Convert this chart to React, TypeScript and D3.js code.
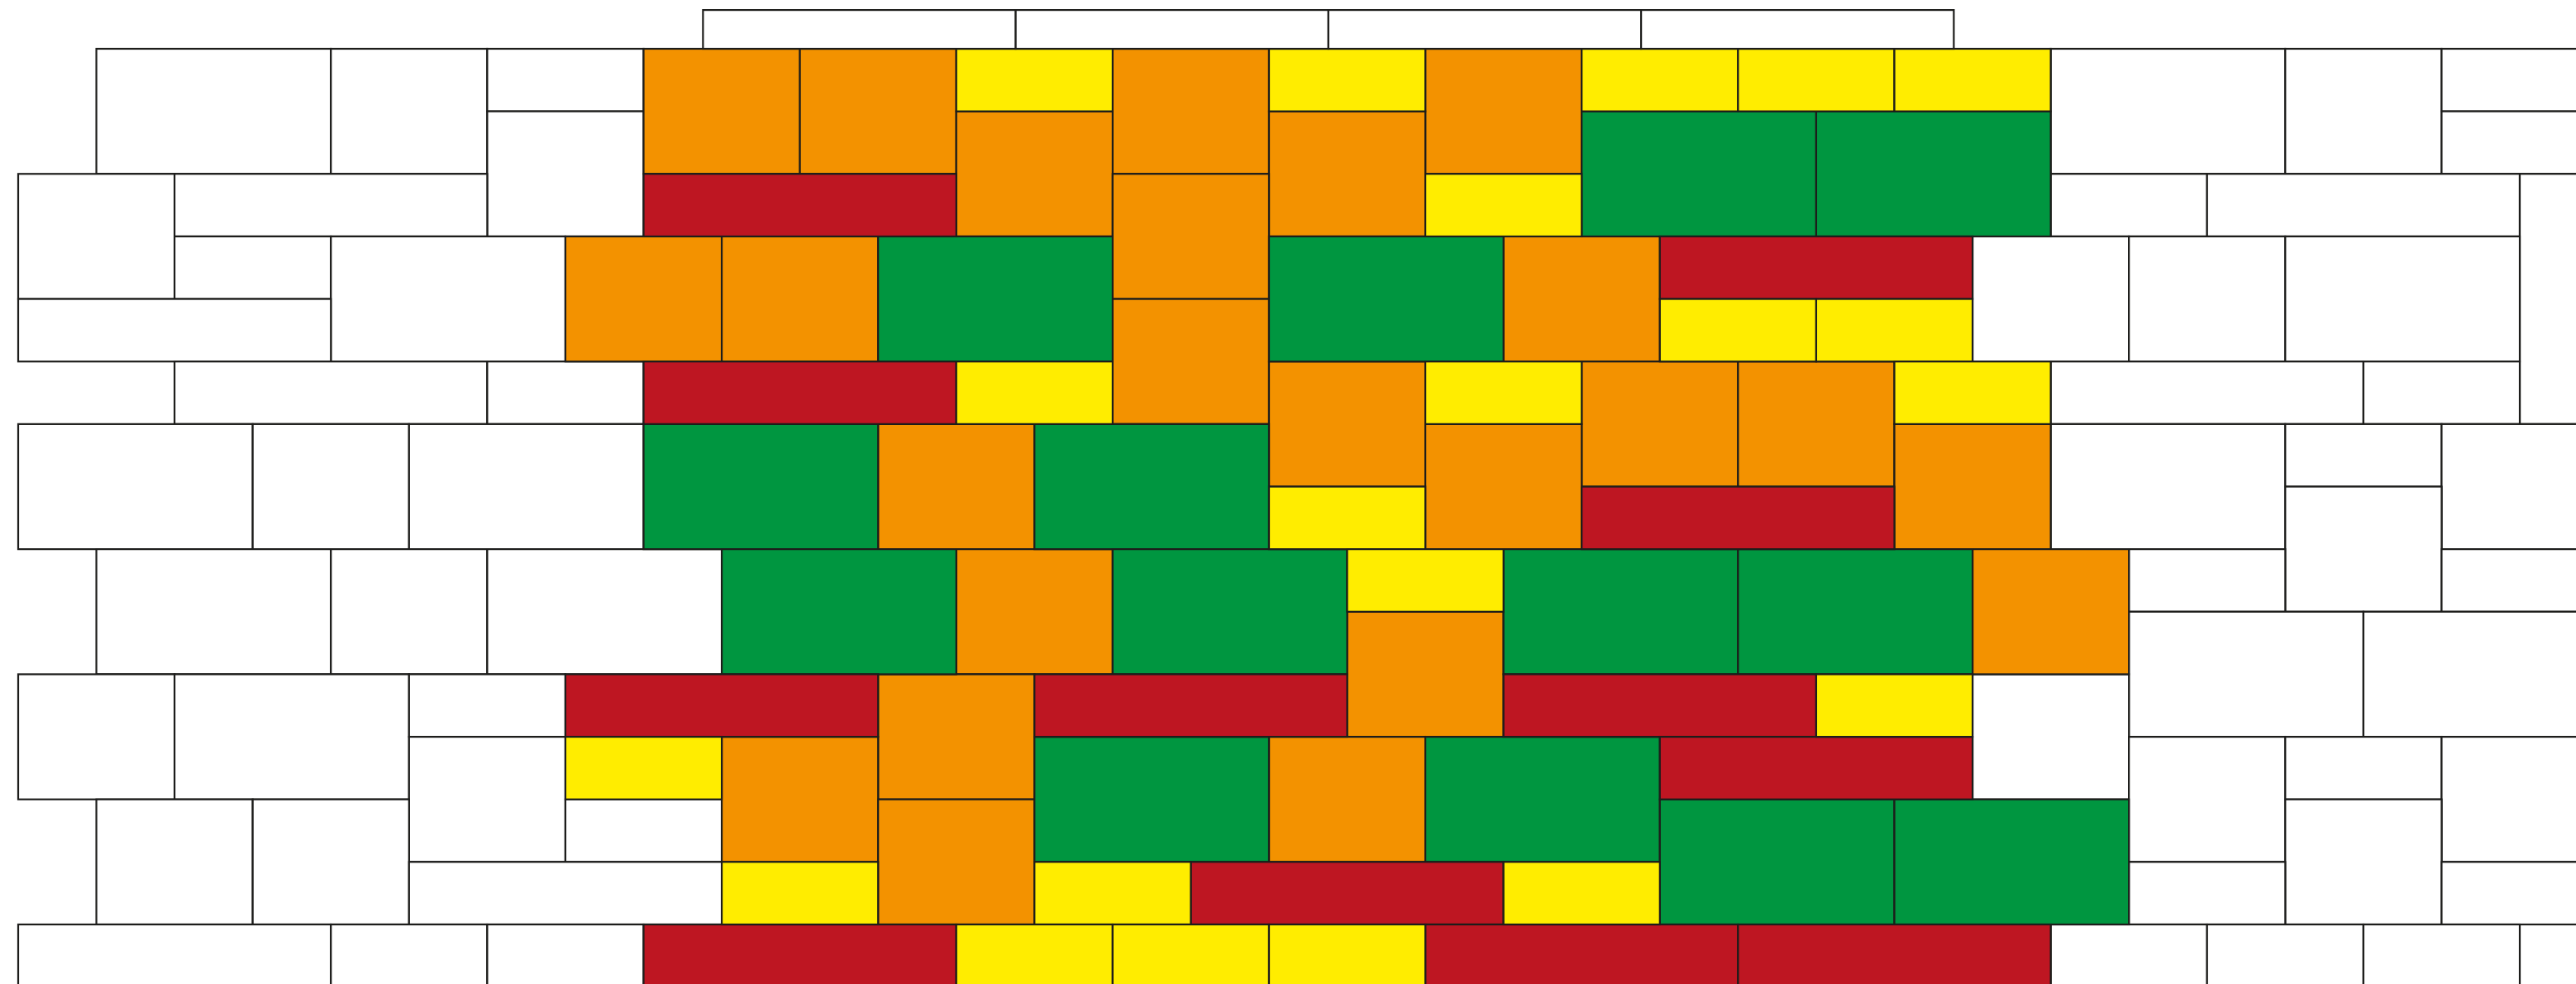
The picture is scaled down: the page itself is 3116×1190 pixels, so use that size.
import React, { useEffect } from "react";
import * as d3 from "d3";

// Cells: [colStart, colEnd, rowStart, rowEnd] in half-brick columns / course rows
const whiteCells: number[][] = [
  [1, 4, 0, 2], [4, 6, 0, 2], [26, 29, 0, 2], [29, 31, 0, 2],
  [6, 8, 0, 1], [6, 8, 1, 3], [31, 34, 0, 1], [31, 34, 1, 2],
  [0, 2, 2, 4], [2, 6, 2, 3], [26, 28, 2, 3], [28, 32, 2, 3], [32, 34, 2, 6],
  [2, 4, 3, 4], [4, 7, 3, 5], [25, 27, 3, 5], [27, 29, 3, 5], [29, 32, 3, 5],
  [0, 4, 4, 5],
  [2, 6, 5, 6], [6, 8, 5, 6], [26, 30, 5, 6], [30, 32, 5, 6],
  [0, 3, 6, 8], [3, 5, 6, 8], [5, 8, 6, 8], [26, 29, 6, 8], [29, 31, 6, 7], [31, 34, 6, 8],
  [29, 31, 7, 9],
  [1, 4, 8, 10], [4, 6, 8, 10], [6, 9, 8, 10], [27, 29, 8, 9], [31, 34, 8, 9],
  [27, 30, 9, 11], [30, 34, 9, 11],
  [0, 2, 10, 12], [2, 5, 10, 12], [5, 7, 10, 11], [25, 27, 10, 12],
  [5, 7, 11, 13], [27, 29, 11, 13], [29, 31, 11, 12], [31, 34, 11, 13],
  [7, 9, 12, 13], [1, 3, 12, 14], [3, 5, 12, 14], [29, 31, 12, 14],
  [5, 9, 13, 14], [27, 29, 13, 14], [31, 34, 13, 14],
  [0, 4, 14, 15], [4, 6, 14, 15], [6, 8, 14, 15], [26, 28, 14, 15], [28, 30, 14, 15], [30, 32, 14, 15],
];

const orangeCells: number[][] = [
  [8, 10, 0, 2], [10, 12, 0, 2], [14, 16, 0, 2], [18, 20, 0, 2],
  [12, 14, 1, 3], [16, 18, 1, 3],
  [14, 16, 2, 4],
  [7, 9, 3, 5], [9, 11, 3, 5], [19, 21, 3, 5],
  [14, 16, 4, 6],
  [16, 18, 5, 7], [20, 22, 5, 7], [22, 24, 5, 7],
  [11, 13, 6, 8], [18, 20, 6, 8], [24, 26, 6, 8],
  [12, 14, 8, 10], [25, 27, 8, 10],
  [17, 19, 9, 11],
  [11, 13, 10, 12],
  [9, 11, 11, 13], [16, 18, 11, 13],
  [11, 13, 12, 14],
];

const greenCells: number[][] = [
  [20, 23, 1, 3], [23, 26, 1, 3],
  [11, 14, 3, 5], [16, 19, 3, 5],
  [8, 11, 6, 8], [13, 16, 6, 8],
  [9, 12, 8, 10], [14, 17, 8, 10], [19, 22, 8, 10], [22, 25, 8, 10],
  [13, 16, 11, 13], [18, 21, 11, 13],
  [21, 24, 12, 14], [24, 27, 12, 14],
];

const redCells: number[][] = [
  [8, 12, 2, 3], [21, 25, 3, 4], [8, 12, 5, 6], [20, 24, 7, 8],
  [7, 11, 10, 11], [13, 17, 10, 11], [19, 23, 10, 11], [21, 25, 11, 12],
  [15, 19, 13, 14], [8, 12, 14, 15], [18, 22, 14, 15], [22, 26, 14, 15],
];

const yellowCells: number[][] = [
  [12, 14, 0, 1], [16, 18, 0, 1], [20, 22, 0, 1], [22, 24, 0, 1], [24, 26, 0, 1],
  [18, 20, 2, 3],
  [21, 23, 4, 5], [23, 25, 4, 5],
  [12, 14, 5, 6], [18, 20, 5, 6], [24, 26, 5, 6],
  [16, 18, 7, 8],
  [17, 19, 8, 9],
  [23, 25, 10, 11],
  [7, 9, 11, 12],
  [9, 11, 13, 14], [13, 15, 13, 14], [19, 21, 13, 14],
  [12, 14, 14, 15], [14, 16, 14, 15], [16, 18, 14, 15],
];

// Top strip boxes (start columns), each 4 half-columns wide, partial row above row 0
const topStripStarts: number[] = [8.76, 12.76, 16.76, 20.76];
const topStripWidth = 4;
const topStripRows: number[] = [-0.62, 0];

const W = 3116;
const H = 1190;

const x = d3.scaleLinear().domain([0, 32]).range([22, 3048]);
const y = d3.scaleLinear().domain([0, 14]).range([59, 1118]);

const STROKE = "#1d1d1b";

const groups: { cells: number[][]; fill: string }[] = [
  { cells: whiteCells, fill: "#ffffff" },
  { cells: orangeCells, fill: "#f39200" },
  { cells: greenCells, fill: "#009640" },
  { cells: redCells, fill: "#be1622" },
  { cells: yellowCells, fill: "#ffed00" },
];

export default function App() {
  useEffect(() => {
    document.body.style.margin = "0";
  }, []);

  return (
    <svg
      width={W}
      height={H}
      viewBox={`0 0 ${W} ${H}`}
      style={{ position: "absolute", left: 0, top: 0, display: "block", background: "#ffffff" }}
    >
      {groups.map((g, gi) => (
        <g key={gi}>
          {g.cells.map((c, i) => (
            <rect
              key={i}
              x={x(c[0])}
              y={y(c[2])}
              width={x(c[1]) - x(c[0])}
              height={y(c[3]) - y(c[2])}
              fill={g.fill}
              stroke={STROKE}
              strokeWidth={2.2}
            />
          ))}
        </g>
      ))}
      <g>
        {topStripStarts.map((s, i) => (
          <rect
            key={i}
            x={x(s)}
            y={y(topStripRows[0])}
            width={x(s + topStripWidth) - x(s)}
            height={y(topStripRows[1]) - y(topStripRows[0])}
            fill="#ffffff"
            stroke={STROKE}
            strokeWidth={2.2}
          />
        ))}
      </g>
    </svg>
  );
}
